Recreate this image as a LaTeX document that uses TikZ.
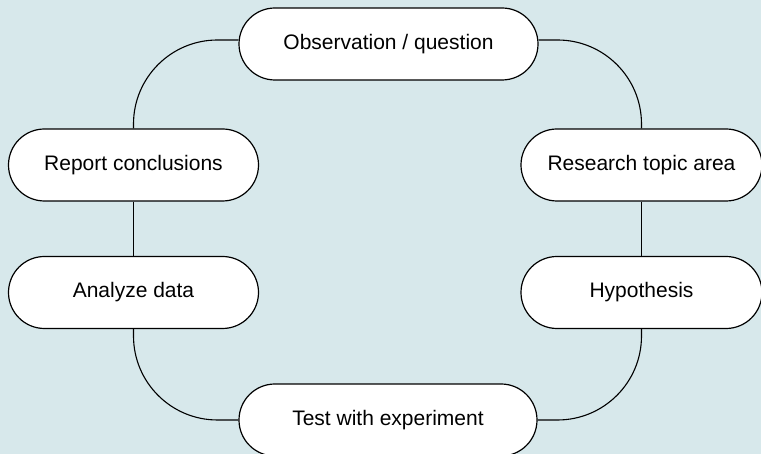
\documentclass[tikz,border=0pt]{standalone}
\usepackage{fontspec}
\setmainfont{Liberation Sans}
\definecolor{bgpanel}{RGB}{215,232,235}
\tikzset{
  stage/.style={draw=black, line width=1.2pt, fill=white, rounded corners=36pt,
    minimum height=72pt, inner sep=0pt, font=\fontsize{21}{25}\selectfont},
  link/.style={draw=black, line width=1.1pt, rounded corners=84pt}
}
\begin{document}
\begin{tikzpicture}[x=1pt,y=1pt]
  \fill[bgpanel] (0,0) rectangle (761,454);
  \useasboundingbox (0,0) rectangle (761,454);

  \node[stage, minimum width=299pt] (obs)  at (388.5,410)   {Observation / question};
  \node[stage, minimum width=250pt] (rep)  at (133.5,289)   {Report conclusions};
  \node[stage, minimum width=250pt] (ana)  at (133.5,161.5) {Analyze data};
  \node[stage, minimum width=241pt] (res)  at (641.5,289)   {Research topic area};
  \node[stage, minimum width=241pt] (hyp)  at (641.5,161.5) {Hypothesis};
  \node[stage, minimum width=298pt] (test) at (388,34)      {Test with experiment};

  \draw[link] ([yshift=4pt]obs.west) -| (rep.north);
  \draw[link] ([yshift=4pt]obs.east) -| (res.north);
  \draw[link] (rep.south) -- (ana.north);
  \draw[link] (res.south) -- (hyp.north);
  \draw[link] (ana.south) |- (test.west);
  \draw[link] (hyp.south) |- (test.east);
\end{tikzpicture}
\end{document}
